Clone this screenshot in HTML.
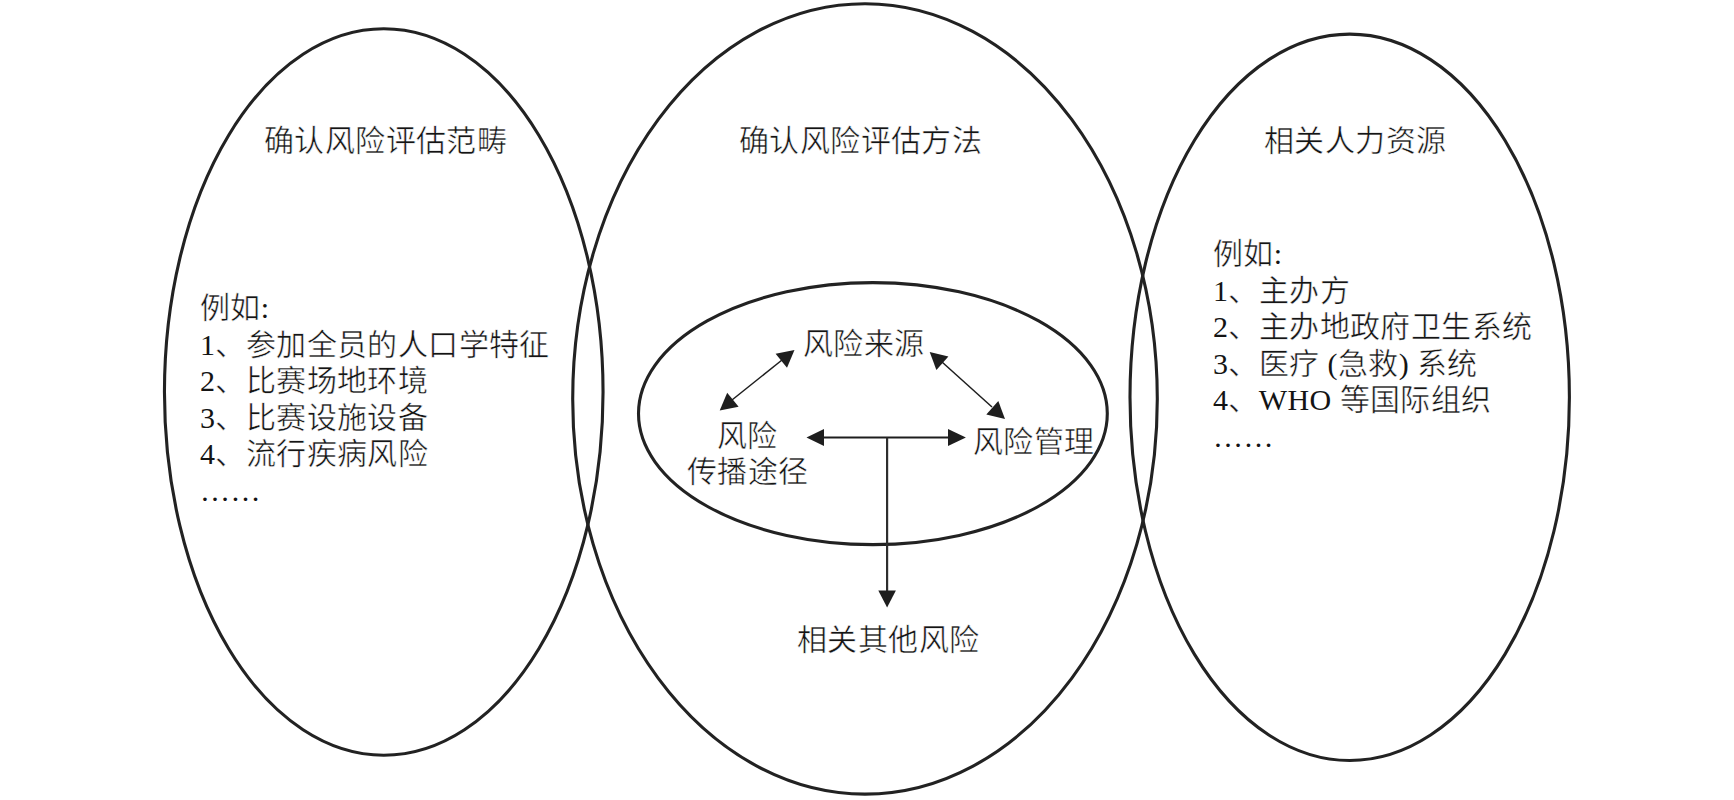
<!DOCTYPE html>
<html lang="zh-CN">
<head>
<meta charset="utf-8">
<style>
html,body{margin:0;padding:0;background:#fff;}
body{width:1734px;height:800px;position:relative;overflow:hidden;font-family:"Liberation Serif",serif;color:#141414;}
svg{position:absolute;left:0;top:0;}
.t{position:absolute;font-size:30px;line-height:36.6px;white-space:pre;letter-spacing:0.4px;-webkit-text-stroke:0.5px #fff;}
.l{-webkit-text-stroke:0;}
</style>
</head>
<body>
<div class="t" style="left:264px;top:123px">确认风险评估范畴</div>
<div class="t" style="left:739px;top:123px">确认风险评估方法</div>
<div class="t" style="left:1264px;top:123px">相关人力资源</div>
<div class="t" style="left:200px;top:290px">例如<span class="l">:</span>
<span class="l">1</span>、参加全员的人口学特征
<span class="l">2</span>、比赛场地环境
<span class="l">3</span>、比赛设施设备
<span class="l">4</span>、流行疾病风险
<span class="l">……</span></div>
<div class="t" style="left:1213px;top:236px">例如<span class="l">:</span>
<span class="l">1</span>、主办方
<span class="l">2</span>、主办地政府卫生系统
<span class="l">3</span>、医疗<span class="l"> (</span>急救<span class="l">) </span>系统
<span class="l">4</span>、<span class="l">WHO </span>等国际组织
<span class="l">……</span></div>
<div class="t" style="left:803px;top:326px">风险来源</div>
<div class="t" style="left:717px;top:417.5px">风险</div>
<div class="t" style="left:687px;top:454px">传播途径</div>
<div class="t" style="left:973px;top:424px">风险管理</div>
<div class="t" style="left:797px;top:622px">相关其他风险</div>
<svg width="1734" height="800" viewBox="0 0 1734 800">
  <g fill="none" stroke="#222" stroke-width="3.1">
    <ellipse cx="383.75" cy="392" rx="219.3" ry="363.2"/>
    <ellipse cx="865" cy="398.9" rx="292.3" ry="395.2"/>
    <ellipse cx="1349.7" cy="397.3" rx="219.7" ry="363.2"/>
    <ellipse cx="872.9" cy="413.6" rx="234.4" ry="131"/>
  </g>
  <g stroke="#1e1e1e" fill="none">
    <line x1="822" y1="437.5" x2="950" y2="437.5" stroke-width="2"/>
    <line x1="887.1" y1="437.5" x2="887.1" y2="592" stroke-width="2.2" stroke="#2e2e2e"/>
    <line x1="732" y1="400" x2="782" y2="360" stroke-width="1.5"/>
    <line x1="942" y1="362" x2="992" y2="407" stroke-width="1.5"/>
  </g>
  <g fill="#1e1e1e">
    <polygon points="806.5,437.5 824,429.1 824,445.9"/>
    <polygon points="965.9,437.5 948,429.1 948,445.9"/>
    <polygon points="887.1,607.6 878.3,590.4 895.9,590.4"/>
    <polygon points="794.5,350 787.0,367.7 775.6,353.7"/>
    <polygon points="719.7,410.4 738.6,406.7 727.2,392.7"/>
    <polygon points="1005,419 986.3,414.4 998.3,401.0"/>
    <polygon points="929.7,352 936.4,370.0 948.4,356.6"/>
  </g>
</svg>
</body>
</html>
